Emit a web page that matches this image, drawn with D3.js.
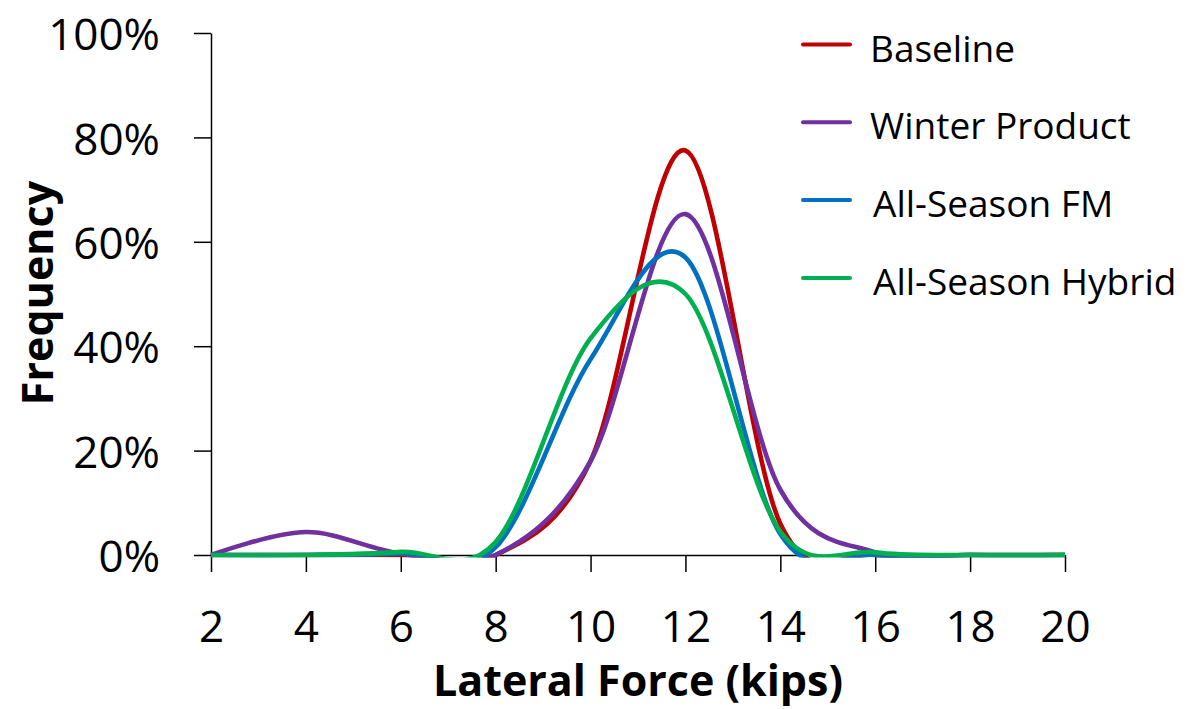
<!DOCTYPE html>
<html>
<head>
<meta charset="utf-8">
<script src="https://cdn.jsdelivr.net/npm/d3@7"></script>
<style>
    body { margin: 0; background: #fff; }
    text { font-family: "Open Sans", sans-serif; fill: #000; }
</style>
</head>
<body>
<div id="mainDiv"></div>
<script>
// Lateral force bins (kips) and frequency per product
var forceBins = [ 2, 4, 6, 8, 10, 12, 14, 16, 18, 20 ];
var baselineFreq = [ 0, 0, 0, 0, 0.18, 0.775, 0.06, 0, 0, 0 ];
var winterFreq = [ 0, 0.044, 0.003, 0, 0.18, 0.653, 0.125, 0.005, 0, 0 ];
var fmFreq = [ 0, 0, 0.003, 0.015, 0.375, 0.57, 0.04, 0, 0, 0 ];
var hybridFreq = [ 0, 0, 0.006, 0.025, 0.415, 0.5, 0.045, 0.005, 0, 0 ];
var seriesNames = [ 'Baseline', 'Winter Product', 'All-Season FM', 'All-Season Hybrid' ];
var seriesColors = [ '#C00000', '#7030A0', '#0070C0', '#00B050' ];
var xTicks = [ 2, 4, 6, 8, 10, 12, 14, 16, 18, 20 ];
var yTicks = [ 0, 0.2, 0.4, 0.6, 0.8, 1 ];

var ForceChart = ForceChart || {};

ForceChart.main = function () {
    var _width = 1203, _height = 709,
        _left = 211, _right = 1065, _top = 33, _bottom = 555,
        _font = '"Open Sans", sans-serif',
        _allSeries = [ baselineFreq, winterFreq, fmFreq, hybridFreq ];

    var svg = d3.select( '#mainDiv' )
        .append( 'svg' )
        .attr( 'width', _width )
        .attr( 'height', _height );

    var x = d3.scaleLinear().domain( [ 2, 20 ] ).range( [ _left, _right ] ),
        y = d3.scaleLinear().domain( [ 0, 1 ] ).range( [ _bottom, _top ] );

    // excel clips the smoothed line below the axis
    svg.append( 'defs' ).append( 'clipPath' )
        .attr( 'id', 'plotClip' )
        .append( 'rect' )
        .attr( 'x', _left - 10 )
        .attr( 'y', _top - 10 )
        .attr( 'width', _right - _left + 20 )
        .attr( 'height', _bottom - _top + 12.5 );

    var yAxis = svg.append( 'g' )
        .attr( 'transform', 'translate(' + _left + ',0)' )
        .call( d3.axisLeft( y ).tickValues( yTicks ).tickSize( 17 ).tickSizeOuter( 0 ).tickPadding( 34 )
            .tickFormat( d3.format( '.0%' ) ) );

    var xAxis = svg.append( 'g' )
        .attr( 'transform', 'translate(0,' + _bottom + ')' )
        .call( d3.axisBottom( x ).tickValues( xTicks ).tickSize( 17 ).tickSizeOuter( 0 ).tickPadding( 39 ) );

    [ yAxis, xAxis ].forEach( function ( ax ) {
        ax.select( '.domain' ).attr( 'stroke', '#000' ).attr( 'stroke-width', 1.5 );
        ax.selectAll( '.tick line' ).attr( 'stroke', '#000' ).attr( 'stroke-width', 1.5 );
        ax.selectAll( '.tick text' )
            .attr( 'font-family', _font )
            .attr( 'font-size', 44 )
            .attr( 'fill', '#000' );
    } );
    yAxis.selectAll( '.tick text' ).attr( 'dy', '0.38em' );

    var line = d3.line()
        .x( function ( d, i ) { return x( forceBins[ i ] ); } )
        .y( function ( d ) { return y( d ); } )
        .curve( d3.curveCardinal.tension( 0 ) );

    svg.append( 'g' )
        .attr( 'clip-path', 'url(#plotClip)' )
        .selectAll( 'path' )
        .data( _allSeries )
        .enter()
        .append( 'path' )
        .attr( 'd', line )
        .attr( 'fill', 'none' )
        .attr( 'stroke', function ( d, i ) { return seriesColors[ i ]; } )
        .attr( 'stroke-width', 4.6 )
        .attr( 'stroke-linejoin', 'round' );

    var legend = svg.append( 'g' ).selectAll( 'g' )
        .data( seriesNames )
        .enter()
        .append( 'g' )
        .attr( 'transform', function ( d, i ) { return 'translate(803,' + ( 44.5 + i * 77.8 ) + ')'; } );
    legend.append( 'line' )
        .attr( 'x1', 0 ).attr( 'x2', 47 )
        .attr( 'stroke', function ( d, i ) { return seriesColors[ i ]; } )
        .attr( 'stroke-width', 4 )
        .attr( 'stroke-linecap', 'round' );
    legend.append( 'text' )
        .attr( 'x', function ( d, i ) { return i < 2 ? 67 : 70; } )
        .attr( 'dy', '0.46em' )
        .attr( 'font-size', 37 )
        .text( function ( d ) { return d; } );

    svg.append( 'text' )
        .attr( 'x', 638 )
        .attr( 'y', 696 )
        .attr( 'text-anchor', 'middle' )
        .attr( 'font-size', 43 )
        .attr( 'font-weight', 'bold' )
        .text( 'Lateral Force (kips)' );

    svg.append( 'text' )
        .attr( 'transform', 'translate(53,293) rotate(-90)' )
        .attr( 'text-anchor', 'middle' )
        .attr( 'font-size', 43 )
        .attr( 'font-weight', 'bold' )
        .text( 'Frequency' );
}();
</script>
</body>
</html>
